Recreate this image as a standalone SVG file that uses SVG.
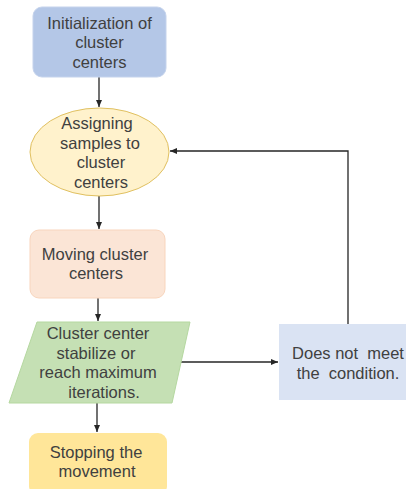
<svg xmlns="http://www.w3.org/2000/svg" width="406" height="489" viewBox="0 0 406 489">
<defs>
<marker id="ah" markerWidth="8" markerHeight="8" refX="7" refY="4" orient="auto" markerUnits="userSpaceOnUse">
<path d="M0,1 L7,4 L0,7 Z" fill="#262626"/>
</marker>
<style>
text{font-family:"Liberation Sans",Arial,sans-serif;font-size:16.5px;fill:#404040;text-anchor:middle}
.c{stroke:#262626;stroke-width:1.3;fill:none}
</style>
</defs>
<rect width="406" height="489" fill="#fff"/>
<g id="connectors">
<path class="c" d="M99,77 V107" marker-end="url(#ah)"/>
<path class="c" d="M99,196 V229" marker-end="url(#ah)"/>
<path class="c" d="M98,298 V321" marker-end="url(#ah)"/>
<path class="c" d="M97,403 V432" marker-end="url(#ah)"/>
<path class="c" d="M180,362 H278" marker-end="url(#ah)"/>
<path class="c" d="M348,324 V151 H170" marker-end="url(#ah)"/>
</g>
<g id="init">
<rect x="33" y="7" width="133" height="70" rx="9" fill="#b4c7e7" stroke="#c5d3ec"/>
<text x="99.5" y="28.5">Initialization of</text>
<text x="99.5" y="48">cluster</text>
<text x="99.5" y="67.5">centers</text>
</g>
<g id="assign">
<ellipse cx="99.5" cy="152" rx="69.5" ry="44" fill="#fff2cc" stroke="#e0c060"/>
<text x="97" y="129">Assigning</text>
<text x="100" y="148.5">samples to</text>
<text x="101" y="168">cluster</text>
<text x="101" y="188">centers</text>
</g>
<g id="move">
<rect x="30" y="230" width="135" height="68" rx="9" fill="#fbe5d6" stroke="#f8d5bd"/>
<text x="95" y="260">Moving cluster</text>
<text x="96" y="279">centers</text>
</g>
<g id="check">
<polygon points="37,322 190,322 172,403 9,403" fill="#c5e0b4" stroke="#b5d8a0"/>
<text x="98" y="339">Cluster center</text>
<text x="96" y="358.5">stabilize or</text>
<text x="98" y="378">reach maximum</text>
<text x="104" y="398">iterations.</text>
</g>
<g id="stop">
<rect x="29" y="433" width="138" height="62" rx="9" fill="#ffe699"/>
<text x="96" y="458">Stopping the</text>
<text x="97" y="477">movement</text>
</g>
<g id="notmeet">
<rect x="279" y="324" width="130" height="76" fill="#dae3f3"/>
<text x="348" y="359" xml:space="preserve">Does not  meet</text>
<text x="348" y="378.5" xml:space="preserve">the  condition.</text>
</g>
</svg>
